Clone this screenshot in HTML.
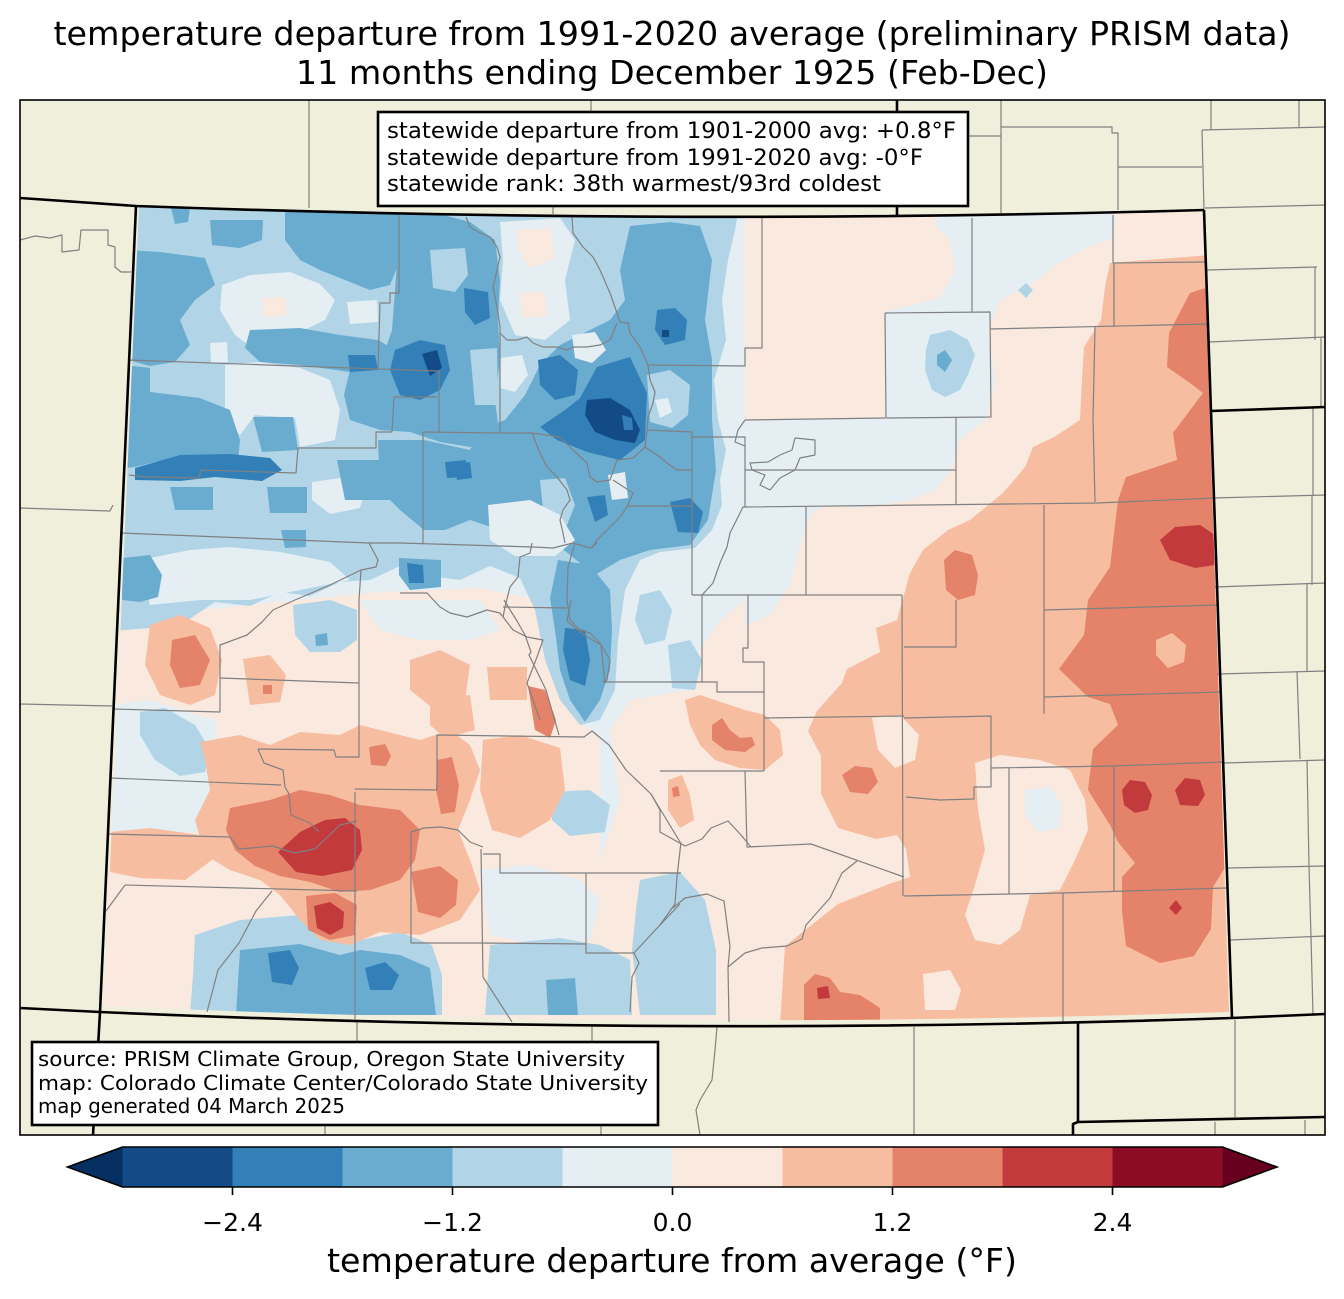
<!DOCTYPE html>
<html><head><meta charset="utf-8"><style>
html,body{margin:0;padding:0;background:#fff;}
svg{display:block;}
text{font-family:"DejaVu Sans","Liberation Sans",sans-serif;fill:#000;}
</style></head><body>
<svg width="1344" height="1299" viewBox="0 0 1344 1299" xmlns="http://www.w3.org/2000/svg">
<defs>
<clipPath id="fr"><rect x="20" y="100" width="1305" height="1035"/></clipPath>
<clipPath id="co"><path d="M139,207 Q670,226 1203,211 L1229,1012 Q666,1031 104,1006 Z"/></clipPath>
</defs>
<rect width="1344" height="1299" fill="#fff"/>
<text x="672" y="45" font-size="33" text-anchor="middle" textLength="1237" lengthAdjust="spacingAndGlyphs">temperature departure from 1991-2020 average (preliminary PRISM data)</text>
<text x="672" y="84" font-size="33" text-anchor="middle" textLength="752" lengthAdjust="spacingAndGlyphs">11 months ending December 1925 (Feb-Dec)</text>

<g clip-path="url(#fr)">
<rect x="20" y="100" width="1305" height="1035" fill="#f0efdc"/>
<g clip-path="url(#co)">
<rect x="90" y="200" width="1150" height="840" fill="#e4eef3"/>
<!-- pink east -->
<polygon fill="#fae9df" points="745,200 1240,200 1240,1040 560,1040 560,900 600,860 620,800 610,730 630,700 690,690 700,650 720,620 745,600"/>
<!-- pink SW -->
<polygon fill="#fae9df" points="100,620 200,610 300,600 380,592 480,588 540,600 560,700 600,740 600,1040 95,1040"/>
<polygon fill="#e4eef3" points="110,705 150,700 215,720 225,790 215,830 150,835 110,830"/>
<polygon fill="#e4eef3" points="360,600 420,600 480,600 500,630 470,640 420,640 380,630"/>
<polygon fill="#e4eef3" points="480,870 530,865 580,880 600,900 590,940 540,945 490,935"/>
<!-- NE light zone -->
<polygon fill="#e4eef3" points="935,205 1115,205 1113,238 1085,248 1055,265 1030,285 1000,300 988,330 995,380 985,420 960,440 950,470 935,490 910,500 880,505 850,508 825,505 810,515 800,545 790,585 770,615 745,625 745,420 800,420 885,418 885,312 912,305 940,298 955,270 950,240 935,225"/>
<!-- salmon SE -->
<polygon fill="#f7bda1" points="1110,263 1210,255 1240,1025 780,1025 785,946 838,904 889,884 910,877 906,849 897,835 876,839 838,828 821,794 821,756 808,731 817,711 842,683 847,669 880,652 876,628 897,620 910,573 923,550 948,530 970,520 1003,493 1025,467 1033,447 1054,437 1080,420 1082,380 1084,347 1101,320 1105,287"/>
<polygon fill="#fae9df" points="872,718 900,715 919,735 915,760 895,768 878,750"/>
<polygon fill="#fae9df" points="975,763 1000,755 1040,760 1070,770 1085,800 1088,830 1075,860 1060,890 1030,895 1020,930 1000,945 975,940 965,915 975,885 985,850 978,810"/>
<polygon fill="#e4eef3" points="1025,790 1050,787 1062,805 1058,828 1038,832 1025,815"/>
<polygon fill="#fae9df" points="923,974 950,970 961,990 955,1010 925,1010"/>
<!-- salmon around crescent -->
<polygon fill="#f7bda1" points="685,700 700,695 715,700 730,705 745,710 765,715 780,730 783,755 765,770 740,768 715,760 700,745 690,725"/>
<polygon fill="#e4826a" points="712,725 722,718 730,730 740,738 752,737 755,745 745,752 725,750 712,740"/>
<polygon fill="#f7bda1" points="668,780 682,775 690,795 694,820 680,828 668,810"/>
<polygon fill="#e4826a" points="672,788 678,786 680,796 673,797"/>
<!-- red east -->
<polygon fill="#e4826a" points="1190,293 1215,285 1225,600 1230,800 1226,866 1213,887 1211,929 1194,956 1160,963 1126,946 1122,911 1122,877 1135,863 1118,842 1110,825 1088,790 1093,749 1118,725 1110,704 1088,697 1059,669 1084,635 1088,600 1110,567 1118,500 1126,477 1177,460 1173,433 1203,393 1190,383 1167,367 1169,333"/>
<polygon fill="#f7bda1" points="1156,640 1172,633 1186,645 1184,662 1168,668 1156,655"/>
<polygon fill="#c33a3c" points="1160,540 1175,527 1200,525 1215,535 1215,565 1195,568 1170,560"/>
<polygon fill="#c33a3c" points="1122,790 1130,780 1145,782 1152,795 1148,810 1135,813 1124,805"/>
<polygon fill="#c33a3c" points="1175,790 1185,778 1200,780 1205,795 1198,806 1180,805"/>
<polygon fill="#c33a3c" points="1169,908 1176,900 1182,908 1176,915"/>
<polygon fill="#e4826a" points="944,560 955,550 972,555 978,575 975,595 958,600 946,590"/>
<polygon fill="#e4826a" points="842,775 855,766 872,768 878,782 868,794 850,792"/>
<polygon fill="#e4826a" points="804,985 815,974 830,978 840,992 860,995 880,1008 880,1025 804,1025"/>
<polygon fill="#c33a3c" points="817,988 828,986 830,998 818,999"/>
<!-- box county blob -->
<polygon fill="#b1d5e7" points="930,335 950,330 968,340 975,355 968,375 960,390 945,397 932,390 925,370 926,350"/>
<polygon fill="#6aacd0" points="937,355 945,350 952,360 945,372 937,365"/>
<polygon fill="#b1d5e7" points="1018,290 1026,283 1033,290 1026,298"/>

<!-- WEST blue -->
<polygon fill="#b1d5e7" points="110,200 740,200 735,230 728,260 722,300 726,340 714,380 718,420 726,450 720,480 722,505 712,530 695,548 660,552 640,560 625,590 618,640 615,690 600,720 580,725 560,700 545,660 535,610 520,578 490,566 460,580 430,576 400,566 370,580 340,582 310,596 280,592 250,606 215,602 185,622 150,628 100,632"/>
<polygon fill="#e4eef3" points="222,285 250,275 290,272 320,284 335,300 325,320 300,332 280,345 255,350 235,335 220,310"/>
<polygon fill="#e4eef3" points="225,365 260,362 300,368 330,380 340,410 335,440 300,447 295,418 255,415 240,435 225,420"/>
<polygon fill="#e4eef3" points="347,302 377,300 378,322 350,324"/>
<polygon fill="#e4eef3" points="210,343 227,342 228,362 211,363"/>
<polygon fill="#e4eef3" points="312,482 340,478 365,490 360,508 330,514 312,500"/>
<polygon fill="#e4eef3" points="500,222 560,218 575,240 565,280 570,320 545,340 515,335 500,300 503,260"/>
<polygon fill="#fae9df" points="517,230 550,228 555,258 530,268 518,250"/>
<polygon fill="#fae9df" points="520,293 545,292 547,316 522,318"/>
<polygon fill="#fae9df" points="262,298 285,297 287,316 264,317"/>
<polygon fill="#e4eef3" points="140,560 190,550 230,547 280,552 330,562 350,580 300,590 250,600 200,600 150,605"/>
<!-- mids -->
<g fill="#6aacd0">
<polygon points="128,250 160,252 205,258 215,285 195,300 180,320 190,345 175,362 150,366 128,360"/>
<polygon points="210,220 263,220 262,240 240,248 212,245"/>
<polygon points="171,208 190,208 188,222 175,224"/>
<polygon points="285,210 400,210 400,260 390,285 370,290 345,280 320,270 300,260 285,240"/>
<polygon points="250,330 300,328 340,335 378,340 395,350 390,368 350,372 300,365 260,362 245,348"/>
<polygon points="400,215 440,214 470,222 495,240 500,280 498,320 500,360 495,400 500,440 470,447 440,442 410,432 380,430 350,420 344,395 350,370 380,365 392,330 395,290"/>
<polygon points="630,226 670,222 700,226 712,260 705,320 712,360 712,420 716,470 708,520 690,545 650,550 620,560 595,575 570,555 545,535 520,508 495,485 470,450 480,430 505,420 525,395 540,365 560,345 590,330 610,320 625,300 620,270"/>
<polygon points="124,365 150,368 150,392 200,398 230,410 240,440 238,462 180,456 135,467 124,468"/>
<polygon points="253,417 293,417 298,450 262,452"/>
<polygon points="337,460 420,460 420,500 345,500"/>
<polygon points="267,487 307,487 307,513 270,513"/>
<polygon points="170,487 213,487 213,510 175,510"/>
<polygon points="378,440 424,440 470,450 500,460 525,480 530,520 500,530 470,520 445,530 424,530 400,510 380,490"/>
<polygon points="558,560 590,565 610,590 612,630 610,670 600,700 585,722 570,700 560,670 555,630 550,598"/>
<polygon points="122,558 150,555 162,575 158,597 140,602 122,600"/>
<polygon points="281,530 306,530 306,547 285,548"/>
<polygon points="399,558 441,560 441,587 410,590 399,575"/>
</g>
<!-- light patches in mids -->
<g fill="#b1d5e7">
<polygon points="430,250 465,248 468,275 455,292 433,288"/>
<polygon points="470,350 497,348 498,405 475,405"/>
<polygon points="647,375 670,370 690,385 688,415 672,428 650,422"/>
<polygon points="540,480 565,478 575,505 565,530 545,528"/>
<polygon points="640,595 660,590 672,610 665,640 645,645 635,620"/>
<polygon points="668,645 690,640 702,660 695,690 672,688"/>
</g>
<g fill="#e4eef3">
<polygon points="572,335 595,332 606,350 592,363 575,358"/>
<polygon points="500,358 522,355 528,375 515,392 500,388"/>
<polygon points="488,505 530,500 560,515 575,540 555,556 515,556 490,540"/>
<polygon points="655,400 668,398 672,412 660,418"/>
<polygon points="608,475 625,472 628,498 612,500"/>
</g>
<!-- dark blues -->
<g fill="#3280b7">
<polygon points="540,427 565,410 580,398 597,367 630,357 647,393 645,440 620,460 587,452 557,440"/>
<polygon points="657,310 675,308 687,320 685,340 665,345 655,330"/>
<polygon points="135,468 180,455 230,454 270,458 282,470 262,481 215,477 180,481 135,480"/>
<polygon points="464,288 488,292 490,318 475,325 465,312"/>
<polygon points="395,350 420,340 445,345 450,370 440,390 420,400 400,395 390,370"/>
<polygon points="565,628 585,630 590,660 585,686 570,680 563,650"/>
<polygon points="670,502 690,498 703,512 698,533 678,532"/>
<polygon points="587,497 605,495 608,515 595,522"/>
<polygon points="538,360 560,355 578,370 575,395 555,400 540,385"/>
<polygon points="407,563 423,565 424,583 409,583"/>
<polygon points="348,355 375,355 378,370 350,372"/>
<polygon points="445,462 466,460 468,477 447,478"/>
<polygon points="455,465 470,462 472,478 457,480"/>
</g>
<g fill="#134b86">
<polygon points="587,400 610,398 630,410 640,430 635,443 615,440 595,432 585,415"/>
<polygon points="422,354 437,350 442,368 430,376"/>
<polygon points="662,330 669,330 669,337 662,337"/>
</g>
<polygon fill="#3280b7" points="622,415 632,418 633,430 624,430"/>

<!-- SW light blues -->
<polygon fill="#b1d5e7" points="140,712 165,708 195,725 210,750 205,772 180,776 155,760 140,735"/>
<polygon fill="#b1d5e7" points="293,605 330,600 357,610 357,640 340,652 310,652 295,635"/>
<polygon fill="#6aacd0" points="315,635 327,633 328,645 316,646"/>
<polygon fill="#b1d5e7" points="195,935 240,920 300,915 330,925 360,940 400,932 432,945 442,975 442,1015 190,1015 193,975"/>
<polygon fill="#6aacd0" points="240,950 300,944 340,955 360,950 400,955 430,968 436,1015 236,1015"/>
<polygon fill="#3280b7" points="268,953 290,950 299,968 292,985 272,982"/>
<polygon fill="#3280b7" points="365,968 385,962 399,975 392,990 370,990"/>
<polygon fill="#b1d5e7" points="490,945 560,938 600,945 630,960 632,1015 485,1015"/>
<polygon fill="#6aacd0" points="546,980 575,978 578,1015 548,1015"/>
<polygon fill="#b1d5e7" points="640,880 680,872 705,900 716,950 716,1015 640,1015 632,950 636,910"/>
<polygon fill="#b1d5e7" points="550,792 590,790 610,805 605,832 570,836 552,820"/>
<!-- SW salmon / reds -->
<polygon fill="#f7bda1" points="150,625 180,615 210,628 222,660 215,695 190,705 160,695 145,665"/>
<polygon fill="#e4826a" points="172,640 195,635 210,660 200,685 180,688 170,665"/>
<polygon fill="#f7bda1" points="243,659 270,655 286,675 280,702 250,705"/>
<polygon fill="#e4826a" points="263,685 272,685 272,694 263,694"/>
<polygon fill="#f7bda1" points="200,742 240,735 270,745 300,732 340,735 360,725 380,730 420,740 450,730 470,745 480,770 470,800 458,830 470,860 480,890 460,920 420,935 380,932 350,945 320,940 300,920 280,895 260,880 230,870 205,855 195,820 210,790 205,760"/>
<polygon fill="#f7bda1" points="110,832 150,828 200,835 212,860 185,880 140,878 110,872"/>
<polygon fill="#f7bda1" points="483,740 520,735 560,748 565,790 550,820 520,838 492,830 480,790"/>
<polygon fill="#f7bda1" points="410,660 440,650 470,665 465,700 430,706 410,690"/>
<polygon fill="#f7bda1" points="430,700 470,695 475,730 445,738 430,725"/>
<polygon fill="#f7bda1" points="487,667 527,667 527,700 490,700"/>
<polygon fill="#e4826a" points="230,808 270,800 300,790 330,795 360,805 400,810 420,830 415,860 400,880 370,890 340,892 310,882 280,876 255,866 235,850 226,830"/>
<polygon fill="#c33a3c" points="278,852 300,832 325,820 345,818 360,830 362,850 352,870 322,876 296,872"/>
<polygon fill="#e4826a" points="306,896 335,893 357,905 355,935 330,940 308,930"/>
<polygon fill="#c33a3c" points="314,906 330,902 344,912 343,928 330,935 317,928"/>
<polygon fill="#e4826a" points="369,747 385,744 391,756 386,766 371,765"/>
<polygon fill="#e4826a" points="437,760 452,757 459,785 455,812 441,814 436,790"/>
<polygon fill="#e4826a" points="411,872 440,866 458,880 456,905 440,918 418,912"/>
<polygon fill="#e4826a" points="528,686 545,690 556,720 550,738 535,730"/>
</g>

<!-- county lines -->
<g fill="none" stroke="#808080" stroke-width="1.2" stroke-linejoin="round">
<polyline points="399,215 399,293 390,293 390,303 380,303 378,369"/>
<polyline points="129,360 378,369 439,371 439,432"/>
<polyline points="394,397 437,397"/>
<polyline points="394,397 392,432 376,432 376,448 298,448 296,473 201,470 199,478 146,477 129,475"/>
<polyline points="423,432 500,433"/>
<polyline points="423,432 423,543"/>
<polyline points="121,533 369,543 400,543 533,547 553,548 573,543 590,548 597,543"/>
<polyline points="466,217 470,227 480,233 490,237 497,247 500,257 497,270 493,287 497,307 500,327 500,433"/>
<polyline points="500,333 507,340 517,340 527,337 533,343 543,347 557,347 567,350 573,347 587,347 600,345 610,340 617,323"/>
<polyline points="572,217 573,233 583,247 593,257 600,270 610,293 617,313 620,322 628,323 630,333 640,347 648,365"/>
<polyline points="648,365 745,366 745,348 762,348 762,216"/>
<polyline points="648,365 650,380 655,392 653,403 648,417 647,430 645,447 660,457 667,463 677,470 692,470"/>
<polyline points="647,430 692,432 692,595"/>
<polyline points="692,437 745,437 745,507"/>
<polyline points="500,433 532,433 540,453 547,467 557,477 567,490 570,500 563,510 560,520 563,533 565,543"/>
<polyline points="532,433 560,437 573,450 587,463 590,477 597,482 610,480 617,460 633,458 645,447"/>
<polyline points="613,480 633,493 627,507 620,517 607,530 597,540 592,548"/>
<polyline points="627,506 692,506"/>
<polyline points="532,543 530,553 520,557 518,577 510,587 505,607 503,617"/>
<polyline points="400,593 427,593 440,607 450,613 467,617 487,610 500,613 513,630 527,637 543,640 537,657 527,683 533,700 540,720"/>
<polyline points="503,607 567,608"/>
<polyline points="575,543 568,567 567,600 570,620 580,630 590,633 600,643 610,660 607,680 603,682 702,682 717,682 717,692 764,692"/>
<polyline points="702,595 702,682"/>
<polyline points="692,595 806,595 902,595"/>
<polyline points="745,507 743,507 730,533 727,547 720,563 713,583 702,595"/>
<polyline points="748,595 748,648 743,648 743,662 764,662 764,771"/>
<polyline points="745,507 1097,503 1215,498"/>
<polyline points="745,420 885,418"/>
<polyline points="745,470 956,470"/>
<polyline points="956,418 956,505"/>
<polyline points="806,507 806,595"/>
<polyline points="1044,505 1044,714"/>
<polyline points="1044,610 1218,605"/>
<polyline points="1044,697 1220,692"/>
<polyline points="972,218 972,312"/>
<polyline points="885,313 990,312 991,417 886,418 885,313"/>
<polyline points="990,329 1207,324"/>
<polyline points="1113,215 1113,263 1205,262"/>
<polyline points="1114,263 1114,327"/>
<polyline points="1095,327 1093,420 1095,502"/>
<polyline points="902,595 903,896"/>
<polyline points="956,600 956,647 904,647"/>
<polyline points="904,718 991,716 991,787 974,787 974,799 940,800 906,797"/>
<polyline points="991,768 1114,766 1224,762"/>
<polyline points="1009,768 1009,894"/>
<polyline points="1114,766 1114,891"/>
<polyline points="904,896 1063,893 1226,888"/>
<polyline points="1063,893 1063,1022"/>
<polyline points="764,718 904,716"/>
<polyline points="660,771 764,771"/>
<polyline points="745,771 747,847 811,844 904,877"/>
<polyline points="857,861 842,873 830,898 806,925 802,939 787,946 762,948 745,953 728,967 729,1022"/>
<polyline points="651,794 660,810 660,832 685,846 702,839 711,828 728,821 741,835 751,847"/>
<polyline points="673,908 685,898 707,894 724,901 728,932 730,946 728,967"/>
<polyline points="660,873 681,873"/>
<polyline points="681,842 677,877 675,904 660,925"/>
<polyline points="795,438 815,440 815,455 800,458 795,470 780,478 770,490 760,485 765,475 752,470 750,463 768,462 780,455 792,450 795,438"/>
<polyline points="745,420 738,430 735,442 745,446"/>
<polyline points="361,570 330,585 295,600 273,610 262,622 247,635 220,645 220,712 113,709"/>
<polyline points="369,543 378,560 376,567 361,570 359,600 359,757 336,757 334,750 258,749"/>
<polyline points="220,678 359,683"/>
<polyline points="258,749 264,763 283,770 285,787 289,794 291,815 310,823 319,832"/>
<polyline points="110,778 281,785"/>
<polyline points="108,834 230,837 239,849 273,846 294,853 315,849 340,825 357,821"/>
<polyline points="125,885 357,891"/>
<polyline points="125,885 106,911"/>
<polyline points="355,792 355,1019"/>
<polyline points="272,891 256,911 239,943 218,970 207,1012"/>
<polyline points="355,789 437,790 437,735 584,737 592,731 609,745 626,770 651,794 680,842"/>
<polyline points="411,832 424,828 441,827 458,830 470,842 483,847"/>
<polyline points="411,832 411,943 479,943 586,944"/>
<polyline points="481,849 483,977 512,1022"/>
<polyline points="483,854 500,854 500,873 680,873"/>
<polyline points="586,873 586,953 634,953 639,963 632,977 630,1012"/>
<polyline points="634,953 660,925 680,904"/>
<polyline points="504,600 517,621 525,635 531,652 529,655 546,690 559,735"/>
<polyline points="571,600 567,621 584,635 601,645 605,683"/>
<!-- outside -->
<polyline points="309,100 309,208"/>
<polyline points="591,100 591,112"/>
<polyline points="553,206 553,214"/>
<polyline points="1001,100 1001,213"/>
<polyline points="968,136 1001,136"/>
<polyline points="1001,127 1112,127 1112,133 1118,133 1118,210"/>
<polyline points="1118,167 1202,167"/>
<polyline points="1211,100 1211,130"/>
<polyline points="1202,130 1325,127"/>
<polyline points="1202,130 1204,210"/>
<polyline points="1299,100 1299,127"/>
<polyline points="1205,208 1325,205"/>
<polyline points="1207,270 1317,267"/>
<polyline points="1315,267 1315,340"/>
<polyline points="1209,342 1325,337"/>
<polyline points="1321,337 1321,408"/>
<polyline points="1313,408 1313,495"/>
<polyline points="1213,498 1325,495"/>
<polyline points="1312,495 1312,585"/>
<polyline points="1215,587 1325,583"/>
<polyline points="1307,583 1307,671"/>
<polyline points="1218,674 1325,671"/>
<polyline points="1297,671 1300,759"/>
<polyline points="1224,763 1325,760"/>
<polyline points="1307,760 1309,866"/>
<polyline points="1228,868 1325,866"/>
<polyline points="1309,866 1311,937"/>
<polyline points="1230,940 1325,936"/>
<polyline points="1311,937 1313,1015"/>
<polyline points="1235,1020 1235,1117"/>
<polyline points="1215,1122 1215,1135"/>
<polyline points="1305,1120 1305,1135"/>
<polyline points="717,1027 715,1050 712,1080 700,1100 696,1110 700,1135"/>
<polyline points="914,1027 914,1135"/>
<polyline points="357,1020 357,1041"/>
<polyline points="592,1027 592,1041"/>
<polyline points="325,1126 325,1135"/>
<polyline points="601,1126 601,1135"/>
<polyline points="20,240 35,236 50,238 62,235 62,252 79,250 81,230 108,230 108,245 115,247 115,267 121,272 131,272"/>
<polyline points="20,508 110,511 113,505"/>
<polyline points="20,704 112,706"/>
</g>
<!-- state borders -->
<g fill="none" stroke="#000" stroke-width="2.6" stroke-linejoin="round">
<path d="M20,198 L136,206 Q670,225.4 1204,210"/>
<path d="M897,100 L897,215"/>
<path d="M1204,210 L1232,1018"/>
<path d="M1211,411 L1325,407"/>
<path d="M20,1008 L100,1012 Q666,1037 1232,1018 L1325,1014"/>
<path d="M136,206 L100,1012 L93,1135"/>
<path d="M1078,1023 L1078,1122 L1325,1117"/>
<path d="M1078,1122 L1073,1124 L1073,1135"/>
</g>
</g>
<rect x="20" y="100" width="1305" height="1035" fill="none" stroke="#000" stroke-width="1.6"/>

<!-- text box 1 -->
<rect x="378" y="112" width="590" height="94" fill="#fff" stroke="#000" stroke-width="2.6"/>
<text x="387" y="138" font-size="22" textLength="569" lengthAdjust="spacingAndGlyphs">statewide departure from 1901-2000 avg: +0.8°F</text>
<text x="387" y="165" font-size="22" textLength="536" lengthAdjust="spacingAndGlyphs">statewide departure from 1991-2020 avg: -0°F</text>
<text x="387" y="191" font-size="22" textLength="494" lengthAdjust="spacingAndGlyphs">statewide rank: 38th warmest/93rd coldest</text>

<!-- text box 2 -->
<rect x="32" y="1042" width="626" height="83" fill="#fff" stroke="#000" stroke-width="2.6"/>
<text x="38" y="1066" font-size="20" textLength="587" lengthAdjust="spacingAndGlyphs">source: PRISM Climate Group, Oregon State University</text>
<text x="38" y="1090" font-size="20" textLength="610" lengthAdjust="spacingAndGlyphs">map: Colorado Climate Center/Colorado State University</text>
<text x="38" y="1113" font-size="20" textLength="307" lengthAdjust="spacingAndGlyphs">map generated 04 March 2025</text>

<!-- colorbar -->
<polygon points="122.5,1147 67.5,1167 122.5,1187" fill="#053061"/>
<polygon points="1222.5,1147 1277,1167 1222.5,1187" fill="#67001f"/>
<rect x="122.5" y="1147" width="110" height="40" fill="#134b86"/>
<rect x="232.5" y="1147" width="110" height="40" fill="#3280b7"/>
<rect x="342.5" y="1147" width="110" height="40" fill="#6aacd0"/>
<rect x="452.5" y="1147" width="110" height="40" fill="#b1d5e7"/>
<rect x="562.5" y="1147" width="110" height="40" fill="#e4eef3"/>
<rect x="672.5" y="1147" width="110" height="40" fill="#fae9df"/>
<rect x="782.5" y="1147" width="110" height="40" fill="#f7bda1"/>
<rect x="892.5" y="1147" width="110" height="40" fill="#e4826a"/>
<rect x="1002.5" y="1147" width="110" height="40" fill="#c33a3c"/>
<rect x="1112.5" y="1147" width="110" height="40" fill="#8c0c25"/>
<polygon points="67.5,1167 122.5,1147 1222.5,1147 1277,1167 1222.5,1187 122.5,1187" fill="none" stroke="#000" stroke-width="1.6"/>
<g stroke="#000" stroke-width="1.6">
<line x1="232.5" y1="1187" x2="232.5" y2="1195"/>
<line x1="452.5" y1="1187" x2="452.5" y2="1195"/>
<line x1="672.5" y1="1187" x2="672.5" y2="1195"/>
<line x1="892.5" y1="1187" x2="892.5" y2="1195"/>
<line x1="1112.5" y1="1187" x2="1112.5" y2="1195"/>
</g>
<g font-size="25" text-anchor="middle">
<text x="232.5" y="1231">−2.4</text>
<text x="452.5" y="1231">−1.2</text>
<text x="672.5" y="1231">0.0</text>
<text x="892.5" y="1231">1.2</text>
<text x="1112.5" y="1231">2.4</text>
</g>
<text x="672" y="1272" font-size="33" text-anchor="middle" textLength="690" lengthAdjust="spacingAndGlyphs">temperature departure from average (°F)</text>
</svg>
</body></html>
